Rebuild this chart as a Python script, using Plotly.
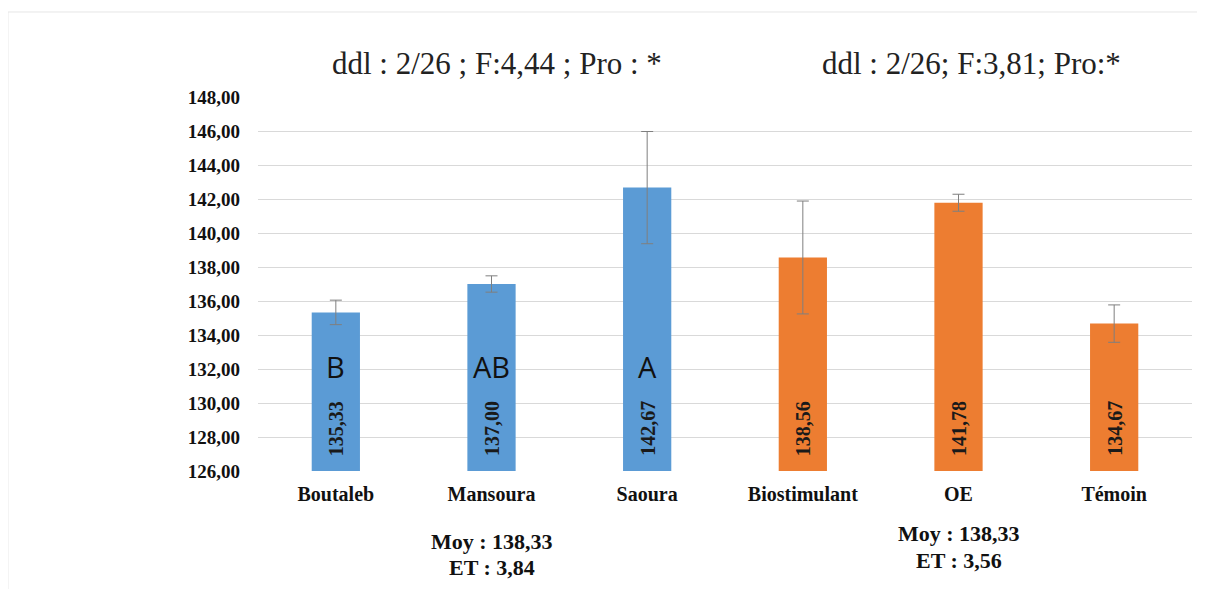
import plotly.graph_objects as go

categories = ["Boutaleb", "Mansoura", "Saoura", "Biostimulant", "OE", "Témoin"]
values = [135.33, 137.00, 142.67, 138.56, 141.78, 134.67]
errors = [0.72, 0.48, 3.30, 3.32, 0.50, 1.10]
value_labels = ["135,33", "137,00", "142,67", "138,56", "141,78", "134,67"]
group_letters = ["B", "AB", "A", "", "", ""]
colors = ["#5B9BD5", "#5B9BD5", "#5B9BD5", "#ED7D31", "#ED7D31", "#ED7D31"]
y_ticks = [126, 128, 130, 132, 134, 136, 138, 140, 142, 144, 146, 148]
y_tick_labels = ["126,00", "128,00", "130,00", "132,00", "134,00", "136,00",
                 "138,00", "140,00", "142,00", "144,00", "146,00", "148,00"]
anova_texts = ["ddl : 2/26 ; F:4,44 ; Pro : *", "ddl : 2/26; F:3,81; Pro:*"]
moy_texts = ["Moy : 138,33", "Moy : 138,33"]
et_texts = ["ET : 3,84", "ET : 3,56"]

serif = "Times New Roman, Liberation Serif, serif"

fig = go.Figure()
fig.add_trace(go.Bar(
    x=categories, y=values,
    marker=dict(color=colors, line=dict(width=0)),
    width=0.31,
    error_y=dict(type="data", array=errors, visible=True, color="#7F7F7F",
                 thickness=1, width=6),
    showlegend=False,
))

# value labels (rotated, inside bars)
for c, lab in zip(categories, value_labels):
    fig.add_annotation(x=c, y=128.5, text=lab, textangle=-90, showarrow=False,
                       font=dict(family=serif, size=20, color="#1a1a1a", weight="bold"))
# group letters
for c, let in zip(categories, group_letters):
    if let:
        fig.add_annotation(x=c, y=132.15, text=let, showarrow=False,
                           font=dict(family="Open Sans", size=29, color="#111111"))

# ANOVA texts at top
for xp, txt in zip([0.2559, 0.7634], anova_texts):
    fig.add_annotation(x=xp, xref="paper", y=1.09, yref="paper", text=txt,
                       xanchor="center", yanchor="middle", showarrow=False,
                       font=dict(family=serif, size=31, color="#222222"))

# bottom stats
for cat, moy, et, ym, ye in zip(["Mansoura", "OE"], moy_texts, et_texts,
                                [-0.1898, -0.1658], [-0.2567, -0.238]):
    fig.add_annotation(x=cat, xref="x", y=ym, yref="paper", yanchor="middle",
                       xanchor="center", text=moy, showarrow=False,
                       font=dict(family=serif, size=22, color="#111111", weight="bold"))
    fig.add_annotation(x=cat, xref="x", y=ye, yref="paper", yanchor="middle",
                       xanchor="center", text=et, showarrow=False,
                       font=dict(family=serif, size=22, color="#111111", weight="bold"))

# faint outer border (top and left edges only)
fig.add_shape(type="line", xref="paper", yref="paper",
              x0=-0.2677, x1=1.1, y0=1.2273, y1=1.2273,
              line=dict(color="#E6E6E6", width=1), layer="below")
fig.add_shape(type="line", xref="paper", yref="paper",
              x0=-0.2677, x1=-0.2677, y0=-0.5, y1=1.2273,
              line=dict(color="#E6E6E6", width=1), layer="below")

fig.update_layout(
    width=1197, height=581,
    margin=dict(l=250, r=13, t=89, b=118),
    paper_bgcolor="white", plot_bgcolor="white",
    bargap=0.69,
    xaxis=dict(showgrid=False, showline=False, zeroline=False,
               tickfont=dict(family=serif, size=20, color="#111111", weight="bold"),
               ticks="", ticklabelstandoff=9),
    yaxis=dict(range=[126, 148], tickvals=y_ticks, ticktext=y_tick_labels,
               showgrid=True, gridcolor="#D9D9D9", gridwidth=1, zeroline=False,
               showline=False, ticks="", ticklabelstandoff=17,
               tickfont=dict(family=serif, size=19, color="#111111", weight="bold")),
)

fig.write_html("out.html")
